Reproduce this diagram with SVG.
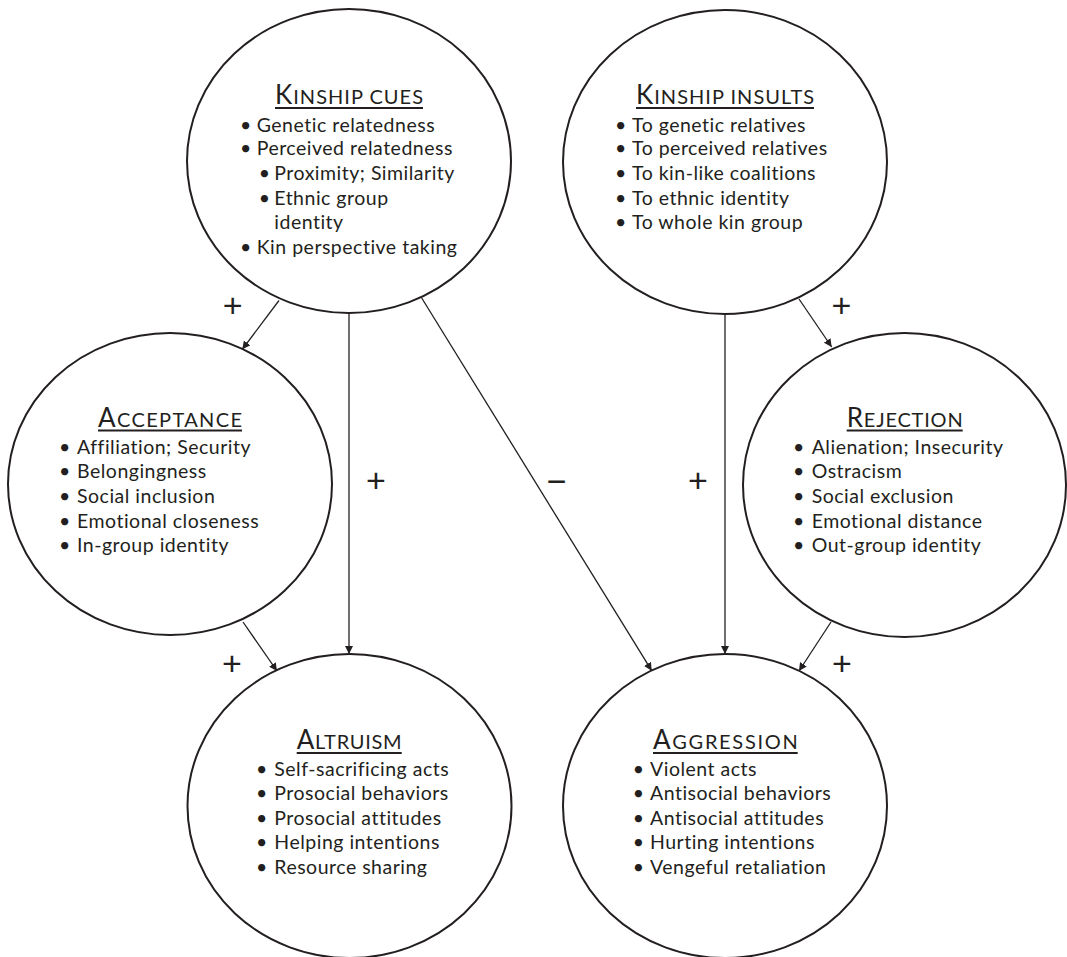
<svg xmlns="http://www.w3.org/2000/svg" width="1067" height="957" viewBox="0 0 1067 957">
<style>
.node ellipse{fill:#fff;stroke:#231f20;stroke-width:2}
.t{font-family:Lato,"Noto Sans","DejaVu Sans",sans-serif;fill:#231f20;font-variant-ligatures:none}
.b{font-size:19.5px;letter-spacing:0.5px}
.h1{font-size:26px}
.h2{font-size:20px}
.ul{stroke:#231f20;stroke-width:2}
.conn line{stroke:#231f20;stroke-width:1.3;fill:none}
.sign{font-family:"Liberation Sans",Arial,sans-serif;font-size:34px;fill:#231f20;text-anchor:middle}
</style>
<defs>
<marker id="ah" viewBox="0 0 10 10" refX="10" refY="5" markerWidth="8" markerHeight="8" markerUnits="userSpaceOnUse" orient="auto">
<path d="M0,0 L10,5 L0,10 z" fill="#231f20"/>
</marker>
</defs>
<rect width="1067" height="957" fill="#fff"/>

<g id="connectors" class="conn">
<line x1="279" y1="300.5" x2="242.3" y2="349.3" marker-end="url(#ah)"/>
<line x1="349" y1="313" x2="349" y2="654" marker-end="url(#ah)"/>
<line x1="421.7" y1="298" x2="651.7" y2="670.7" marker-end="url(#ah)"/>
<line x1="725" y1="314" x2="725" y2="654" marker-end="url(#ah)"/>
<line x1="799" y1="299" x2="831.7" y2="347" marker-end="url(#ah)"/>
<line x1="243" y1="622" x2="277" y2="671" marker-end="url(#ah)"/>
<line x1="831" y1="622" x2="799" y2="671" marker-end="url(#ah)"/>
</g>

<g id="signs">
<text class="sign" x="232.7" y="317">+</text>
<text class="sign" x="841.5" y="317">+</text>
<text class="sign" x="376" y="492">+</text>
<text class="sign" x="556.7" y="493">−</text>
<text class="sign" x="698" y="492">+</text>
<text class="sign" x="232" y="675">+</text>
<text class="sign" x="842" y="675">+</text>
</g>

<g id="kinship-cues" class="node">
<ellipse cx="349" cy="161" rx="162" ry="152"/>
<text class="t" x="275" y="104" textLength="148" lengthAdjust="spacing"><tspan class="h1">K</tspan><tspan class="h2">INSHIP CUES</tspan></text>
<line class="ul" x1="275" y1="108" x2="423" y2="108"/>
<text class="t b" y="131.7"><tspan x="240">•</tspan><tspan x="256.7">Genetic relatedness</tspan></text>
<text class="t b" y="155.3"><tspan x="240">•</tspan><tspan x="256.7">Perceived relatedness</tspan></text>
<text class="t b" y="180"><tspan x="258.7">•</tspan><tspan x="274.3">Proximity; Similarity</tspan></text>
<text class="t b" y="204.7"><tspan x="258.7">•</tspan><tspan x="274.3">Ethnic group</tspan></text>
<text class="t b" x="274.3" y="229">identity</text>
<text class="t b" y="254"><tspan x="240">•</tspan><tspan x="256.7">Kin perspective taking</tspan></text>
</g>

<g id="kinship-insults" class="node">
<ellipse cx="725" cy="162" rx="162" ry="152"/>
<text class="t" x="636" y="104" textLength="178" lengthAdjust="spacing"><tspan class="h1">K</tspan><tspan class="h2">INSHIP INSULTS</tspan></text>
<line class="ul" x1="636" y1="108" x2="814" y2="108"/>
<text class="t b" y="131.7"><tspan x="615">•</tspan><tspan x="632">To genetic relatives</tspan></text>
<text class="t b" y="155.3"><tspan x="615">•</tspan><tspan x="632">To perceived relatives</tspan></text>
<text class="t b" y="180"><tspan x="615">•</tspan><tspan x="632">To kin-like coalitions</tspan></text>
<text class="t b" y="204.7"><tspan x="615">•</tspan><tspan x="632">To ethnic identity</tspan></text>
<text class="t b" y="229.3"><tspan x="615">•</tspan><tspan x="632">To whole kin group</tspan></text>
</g>

<g id="acceptance" class="node">
<ellipse cx="170" cy="484" rx="162" ry="151"/>
<text class="t" x="98" y="426.7" textLength="144" lengthAdjust="spacing"><tspan class="h1">A</tspan><tspan class="h2">CCEPTANCE</tspan></text>
<line class="ul" x1="98" y1="430.5" x2="242" y2="430.5"/>
<text class="t b" y="454"><tspan x="59">•</tspan><tspan x="77">Affiliation; Security</tspan></text>
<text class="t b" y="478.3"><tspan x="59">•</tspan><tspan x="77">Belongingness</tspan></text>
<text class="t b" y="502.7"><tspan x="59">•</tspan><tspan x="77">Social inclusion</tspan></text>
<text class="t b" y="527.7"><tspan x="59">•</tspan><tspan x="77">Emotional closeness</tspan></text>
<text class="t b" y="552.3"><tspan x="59">•</tspan><tspan x="77">In-group identity</tspan></text>
</g>

<g id="rejection" class="node">
<ellipse cx="904.5" cy="485" rx="161.5" ry="152"/>
<text class="t" x="846.7" y="426.7" textLength="116" lengthAdjust="spacing"><tspan class="h1">R</tspan><tspan class="h2">EJECTION</tspan></text>
<line class="ul" x1="846.7" y1="430.5" x2="962.7" y2="430.5"/>
<text class="t b" y="454"><tspan x="793">•</tspan><tspan x="811.7">Alienation; Insecurity</tspan></text>
<text class="t b" y="478.3"><tspan x="793">•</tspan><tspan x="811.7">Ostracism</tspan></text>
<text class="t b" y="502.7"><tspan x="793">•</tspan><tspan x="811.7">Social exclusion</tspan></text>
<text class="t b" y="527.7"><tspan x="793">•</tspan><tspan x="811.7">Emotional distance</tspan></text>
<text class="t b" y="552.3"><tspan x="793">•</tspan><tspan x="811.7">Out-group identity</tspan></text>
</g>

<g id="altruism" class="node">
<ellipse cx="349.5" cy="806" rx="162" ry="152"/>
<text class="t" x="296.7" y="749" textLength="105" lengthAdjust="spacing"><tspan class="h1">A</tspan><tspan class="h2">LTRUISM</tspan></text>
<line class="ul" x1="296.7" y1="753" x2="401.7" y2="753"/>
<text class="t b" y="775.7"><tspan x="256">•</tspan><tspan x="274.3">Self-sacrificing acts</tspan></text>
<text class="t b" y="800"><tspan x="256">•</tspan><tspan x="274.3">Prosocial behaviors</tspan></text>
<text class="t b" y="825"><tspan x="256">•</tspan><tspan x="274.3">Prosocial attitudes</tspan></text>
<text class="t b" y="849.3"><tspan x="256">•</tspan><tspan x="274.3">Helping intentions</tspan></text>
<text class="t b" y="874.3"><tspan x="256">•</tspan><tspan x="274.3">Resource sharing</tspan></text>
</g>

<g id="aggression" class="node">
<ellipse cx="725" cy="806" rx="162" ry="152"/>
<text class="t" x="653" y="749" textLength="144.7" lengthAdjust="spacing"><tspan class="h1">A</tspan><tspan class="h2">GGRESSION</tspan></text>
<line class="ul" x1="653" y1="753" x2="797.7" y2="753"/>
<text class="t b" y="775.7"><tspan x="632.7">•</tspan><tspan x="650">Violent acts</tspan></text>
<text class="t b" y="800"><tspan x="632.7">•</tspan><tspan x="650">Antisocial behaviors</tspan></text>
<text class="t b" y="825"><tspan x="632.7">•</tspan><tspan x="650">Antisocial attitudes</tspan></text>
<text class="t b" y="849.3"><tspan x="632.7">•</tspan><tspan x="650">Hurting intentions</tspan></text>
<text class="t b" y="874.3"><tspan x="632.7">•</tspan><tspan x="650">Vengeful retaliation</tspan></text>
</g>
</svg>
